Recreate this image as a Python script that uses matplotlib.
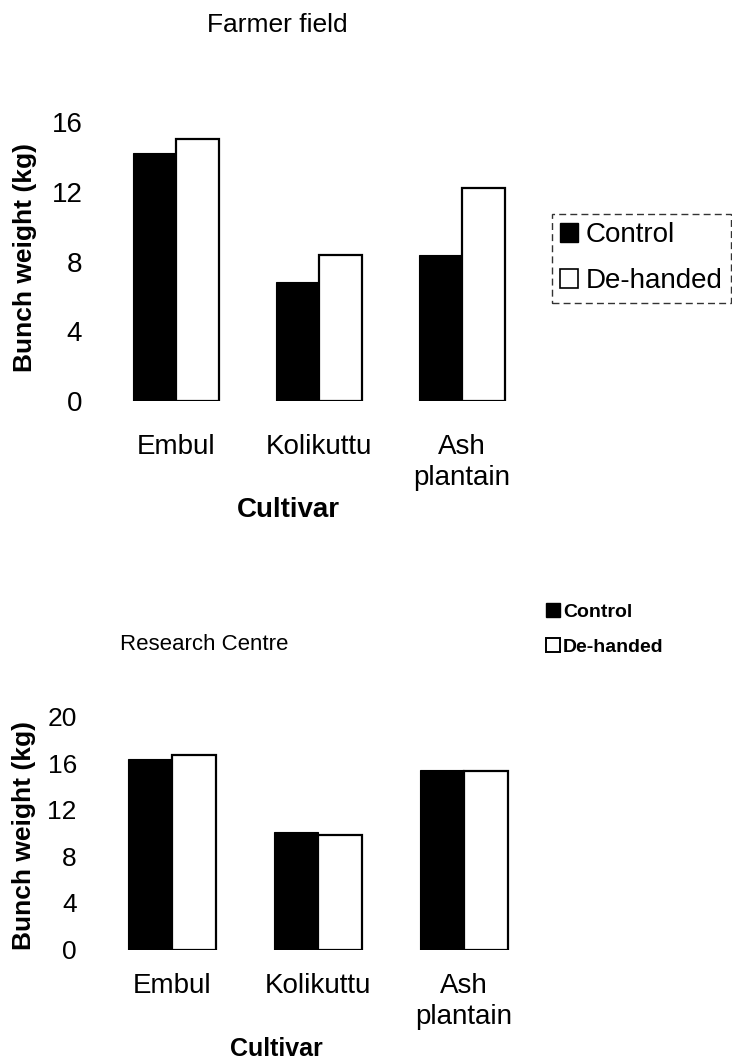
import matplotlib
matplotlib.use("Agg")
import matplotlib.pyplot as plt
from matplotlib.patches import Patch
import numpy as np

plt.rcParams['font.family'] = ['Liberation Sans', 'DejaVu Sans']

# ---- data ----
cultivars = ["Embul", "Kolikuttu", "Ash\nplantain"]
series = ["Control", "De-handed"]
farmer_control = [14.2, 6.8, 8.4]
farmer_dehanded = [15.0, 8.4, 12.2]
research_control = [16.4, 10.1, 15.4]
research_dehanded = [16.7, 9.8, 15.3]
farmer_yticks = [0, 4, 8, 12, 16]
research_yticks = [0, 4, 8, 12, 16, 20]

W, H = 732, 1059
fig = plt.figure(figsize=(W / 100, H / 100), dpi=100)

def fx(px):
    return px / W

def fy(py):
    return 1 - py / H

def draw(ax, ctrl, deh, yticks, ylim, tick_fs, xpad):
    x = np.arange(len(cultivars))
    w = 0.30
    ax.bar(x - w / 2, ctrl, w, color="black", edgecolor="black", linewidth=0.8)
    ax.bar(x + w / 2, deh, w, color="white", edgecolor="black", linewidth=1.6)
    ax.set_xlim(-0.5, len(cultivars) - 0.5)
    ax.set_ylim(*ylim)
    ax.set_yticks(yticks)
    ax.set_xticks(x)
    ax.set_xticklabels(cultivars)
    for s in ax.spines.values():
        s.set_visible(False)
    ax.tick_params(axis="y", length=0, pad=16, labelsize=tick_fs)
    ax.tick_params(axis="x", length=0, pad=xpad, labelsize=20)
    for t in ax.get_xticklabels():
        t.set_linespacing(1.25)
    ax.set_facecolor("none")

# Top chart: Farmer field
ax1 = fig.add_axes([fx(104.5), fy(401), fx(533.5) - fx(104.5), (401 - 122) / H])
draw(ax1, farmer_control, farmer_dehanded, farmer_yticks, (0, 16), 20, 24)
fig.text(fx(277), fy(25), "Farmer field", ha="center", va="center", fontsize=19)
fig.text(fx(25), fy(258), "Bunch weight (kg)", rotation=90, ha="center", va="center",
         fontsize=19, fontweight="bold")
fig.text(fx(288), fy(510), "Cultivar", ha="center", va="center", fontsize=20, fontweight="bold")

handles = [Patch(facecolor="black", edgecolor="black"),
           Patch(facecolor="white", edgecolor="black", linewidth=1.2)]
leg1 = fig.legend(handles, series, loc="upper left", bbox_to_anchor=(fx(552), fy(214)),
                  fontsize=20, frameon=True, fancybox=False, borderaxespad=0,
                  borderpad=0.3, labelspacing=0.72, handlelength=0.65, handleheight=0.65,
                  handletextpad=0.25)
fr = leg1.get_frame()
fr.set_edgecolor("black")
fr.set_linewidth(1.0)
fr.set_linestyle((0, (5, 3)))

# Bottom chart: Research Centre
ax2 = fig.add_axes([fx(99), fy(949.5), fx(537) - fx(99), (949.5 - 716.7) / H])
draw(ax2, research_control, research_dehanded, research_yticks, (0, 20), 19, 17)
fig.text(fx(204), fy(644), "Research Centre", ha="center", va="center", fontsize=16)
fig.text(fx(24), fy(835), "Bunch weight (kg)", rotation=90, ha="center", va="center",
         fontsize=19, fontweight="bold")
fig.text(fx(276), fy(1049), "Cultivar", ha="center", va="center", fontsize=18, fontweight="bold")

handles2 = [Patch(facecolor="black", edgecolor="black"),
            Patch(facecolor="white", edgecolor="black", linewidth=1.4)]
leg2 = fig.legend(handles2, series, loc="upper left", bbox_to_anchor=(fx(546), fy(603)),
                  frameon=False, borderaxespad=0, borderpad=0, labelspacing=0.9,
                  handlelength=0.72, handleheight=0.72, handletextpad=0.15,
                  prop={"size": 14, "weight": "bold"})

fig.savefig("out.png", dpi=100)
